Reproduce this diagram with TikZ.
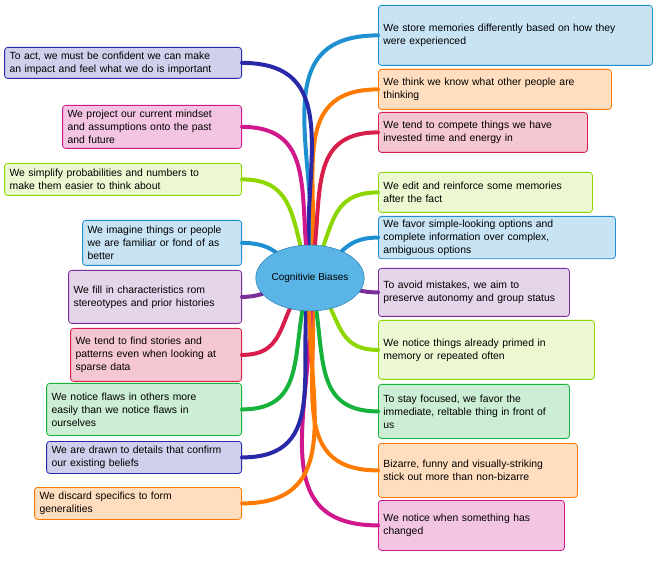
\documentclass[tikz,border=0pt]{standalone}
\usepackage{fontspec}
\setmainfont{Liberation Sans}
\usetikzlibrary{shapes.geometric}
\definecolor{cblue}{HTML}{1E90D2}
\definecolor{corange}{HTML}{FF7A00}
\definecolor{ccrimson}{HTML}{D81E4A}
\definecolor{clime}{HTML}{8ED600}
\definecolor{cpurple}{HTML}{7A2E98}
\definecolor{cgreen}{HTML}{16B23C}
\definecolor{cmagenta}{HTML}{D0188C}
\definecolor{cnavy}{HTML}{2828A8}
\definecolor{ccenter}{HTML}{5AB4E5}
\tikzset{
  box/.style={draw, line width=0.8pt, rounded corners=3pt, align=left,
    font=\fontsize{10.4}{13}\selectfont, inner xsep=5pt},
  rbox/.style={box, anchor=north west},
  lbox/.style={box, anchor=north east},
  bblue/.style={draw=cblue, fill=cblue!25},
  borange/.style={draw=corange, fill=corange!25},
  bcrimson/.style={draw=ccrimson, fill=ccrimson!25},
  blime/.style={draw=clime, fill=clime!18},
  bpurple/.style={draw=cpurple, fill=cpurple!20},
  bgreen/.style={draw=cgreen, fill=cgreen!22},
  bmagenta/.style={draw=cmagenta, fill=cmagenta!25},
  bnavy/.style={draw=cnavy, fill=cnavy!22},
  branch/.style={line width=4pt, line cap=round, looseness=1.2},
}
\begin{document}
\begin{tikzpicture}[x=1pt,y=1pt]
\useasboundingbox (0,0) rectangle (659,563);

% right side
\node[rbox,bblue,text width=264pt,minimum height=60pt] (R1) at (378,558) {We store memories differently based on how they\\were experienced};
\node[rbox,borange,text width=223pt,minimum height=40pt] (R2) at (378,494) {We think we know what other people are\\thinking};
\node[rbox,bcrimson,text width=199pt,minimum height=40pt] (R3) at (378,451) {We tend to compete things we have\\invested time and energy in};
\node[rbox,blime,text width=204pt,minimum height=40pt] (R4) at (378,391) {We edit and reinforce some memories\\after the fact};
\node[rbox,bblue,text width=227pt,minimum height=42pt] (R5) at (378,347) {We favor simple-looking options and\\complete information over complex,\\ambiguous options};
\node[rbox,bpurple,text width=181pt,minimum height=48pt] (R6) at (378,295) {To avoid mistakes, we aim to\\preserve autonomy and group status};
\node[rbox,blime,text width=206pt,minimum height=59pt] (R7) at (378,243) {We notice things already primed in\\memory or repeated often};
\node[rbox,bgreen,text width=181pt,minimum height=54pt] (R8) at (378,179) {To stay focused, we favor the\\immediate, reltable thing in front of\\us};
\node[rbox,borange,text width=189pt,minimum height=54pt] (R9) at (378,120) {Bizarre, funny and visually-striking\\stick out more than non-bizarre};
\node[rbox,bmagenta,text width=176pt,minimum height=50pt] (R10) at (378,63) {We notice when something has\\changed};

% left side
\node[lbox,bnavy,text width=227pt,minimum height=31pt] (L1) at (242,516) {To act, we must be confident we can make\\an impact and feel what we do is important};
\node[lbox,bmagenta,text width=169pt,minimum height=43pt] (L2) at (242,458) {We project our current mindset\\and assumptions onto the past\\and future};
\node[lbox,blime,text width=227pt,minimum height=32pt] (L3) at (242,400) {We simplify probabilities and numbers to\\make them easier to think about};
\node[lbox,bblue,text width=149pt,minimum height=45pt] (L4) at (242,343) {We imagine things or people\\we are familiar or fond of as\\better};
\node[lbox,bpurple,text width=163pt,minimum height=53pt] (L5) at (242,293) {We fill in characteristics rom\\stereotypes and prior histories};
\node[lbox,bcrimson,text width=161pt,minimum height=53pt] (L6) at (242,235) {We tend to find stories and\\patterns even when looking at\\sparse data};
\node[lbox,bgreen,text width=185pt,minimum height=52pt] (L7) at (242,180) {We notice flaws in others more\\easily than we notice flaws in\\ourselves};
\node[lbox,bnavy,text width=185pt,minimum height=32pt] (L8) at (242,122) {We are drawn to details that confirm\\our existing beliefs};
\node[lbox,borange,text width=197pt,minimum height=32pt] (L9) at (242,76) {We discard specifics to form\\generalities};

% branches
\coordinate (c) at (310,285);
\path [branch,draw=cblue]     (c) to[out=84,in=180]  (R1.west);
\path [branch,draw=corange]   (c) to[out=82,in=180]  (R2.west);
\path [branch,draw=ccrimson]  (c) to[out=78,in=180]  (R3.west);
\path [branch,draw=clime]     (c) to[out=62,in=180]  (R4.west);
\path [branch,draw=cblue]     (c) to[out=30,in=180]  (R5.west);
\path [branch,draw=cpurple]   (c) to[out=0,in=180]   (R6.west);
\path [branch,draw=clime]     (c) to[out=-45,in=180] (R7.west);
\path [branch,draw=cgreen]    (c) to[out=-75,in=180] (R8.west);
\path [branch,draw=corange]   (c) to[out=-82,in=180] (R9.west);
\path [branch,draw=cmagenta]  (c) to[out=-86,in=180] (R10.west);
\path [branch,draw=cnavy]     (c) to[out=96,in=0]    (L1.east);
\path [branch,draw=cmagenta]  (c) to[out=100,in=0]   (L2.east);
\path [branch,draw=clime]     (c) to[out=110,in=0]   (L3.east);
\path [branch,draw=cblue]     (c) to[out=150,in=0]   (L4.east);
\path [branch,draw=cpurple]   (c) to[out=180,in=0]   (L5.east);
\path [branch,draw=ccrimson]  (c) to[out=225,in=0]   (L6.east);
\path [branch,draw=cgreen]    (c) to[out=252,in=0]   (L7.east);
\path [branch,draw=cnavy]     (c) to[out=260,in=0]   (L8.east);
\path [branch,draw=corange]   (c) to[out=266,in=0]   (L9.east);

\node[ellipse, draw=cblue!80!black, fill=ccenter, minimum width=90pt, minimum height=66pt,
      font=\fontsize{10}{12}\selectfont, inner sep=0pt] (center) at (c) {Cognitivie Biases};
\end{tikzpicture}
\end{document}
